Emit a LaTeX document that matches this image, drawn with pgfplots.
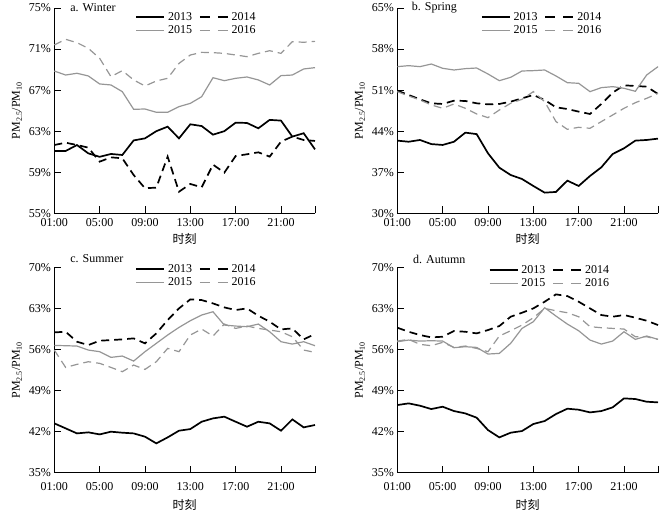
\documentclass[border=0pt]{standalone}
\usepackage{pgfplots}
\usepackage{pgfplotstable}
\pgfplotsset{compat=1.18}
\usepackage{fontspec}
\setmainfont{Liberation Serif}
\newfontfamily\cjk{Noto Sans CJK SC}
\definecolor{lgray}{RGB}{150,150,150}

\pgfplotstableread{
h y13 y14 y15 y16
1 61.07 61.65 68.86 71.40
2 61.07 61.88 68.47 71.95
3 61.65 61.65 68.64 71.62
4 60.84 61.40 68.38 71.07
5 60.50 60.03 67.60 70.10
6 60.78 60.45 67.50 68.31
7 60.68 60.36 66.85 68.90
8 62.10 58.73 65.13 67.99
9 62.30 57.44 65.16 67.40
10 63.00 57.50 64.84 67.89
11 63.44 60.52 64.84 68.15
12 62.30 57.10 65.39 69.60
13 63.67 57.86 65.71 70.42
14 63.50 57.53 66.36 70.68
15 62.66 59.74 68.21 70.65
16 63.00 58.96 67.92 70.58
17 63.83 60.58 68.15 70.42
18 63.80 60.75 68.28 70.26
19 63.28 60.94 67.99 70.58
20 64.10 60.52 67.50 70.84
21 64.03 61.98 68.41 70.58
22 62.47 62.47 68.47 71.72
23 62.80 62.14 69.06 71.66
24 61.23 62.05 69.19 71.75
}\winter

\pgfplotstableread{
h y13 y14 y15 y16
1 42.39 50.91 55.00 50.74
2 42.20 50.17 55.17 50.00
3 42.50 49.43 55.00 49.32
4 41.80 48.75 55.45 48.47
5 41.65 48.64 54.72 47.90
6 42.20 49.20 54.43 48.64
7 43.75 49.15 54.66 47.90
8 43.50 48.75 54.77 46.93
9 40.23 48.58 53.75 46.31
10 37.78 48.64 52.61 47.61
11 36.53 49.03 53.18 48.75
12 35.85 49.60 54.26 49.43
13 34.66 50.17 54.32 50.74
14 33.52 49.32 54.43 49.03
15 33.64 48.07 53.41 45.63
16 35.57 47.78 52.27 44.32
17 34.66 47.33 52.16 44.66
18 36.36 46.93 50.74 44.49
19 37.84 48.64 51.42 45.63
20 40.11 50.57 51.59 46.76
21 41.08 51.82 51.31 47.90
22 42.39 51.70 50.80 48.86
23 42.50 51.59 53.58 49.60
24 42.73 50.34 55.00 50.45
}\spring

\pgfplotstableread{
h y13 y14 y15 y16
1 43.41 58.92 56.70 55.91
2 42.56 59.03 56.65 52.95
3 41.70 57.33 56.59 53.47
4 41.88 56.76 55.91 53.92
5 41.53 57.50 55.63 53.64
6 41.99 57.61 54.66 52.95
7 41.82 57.73 54.89 52.22
8 41.70 57.90 54.03 53.35
9 41.14 57.05 55.63 52.61
10 40.00 58.75 57.05 53.92
11 41.02 61.02 58.47 56.19
12 42.16 63.01 59.77 55.63
13 42.44 64.55 60.91 58.47
14 43.69 64.43 61.88 59.49
15 44.26 63.86 62.44 58.30
16 44.55 63.18 60.17 60.34
17 43.69 62.73 60.00 59.60
18 42.84 63.01 59.89 60.00
19 43.69 61.76 60.34 59.60
20 43.41 60.74 59.03 59.32
21 42.16 59.43 57.33 59.03
22 44.09 59.60 56.93 58.18
23 42.73 57.73 57.33 55.91
24 43.13 58.64 56.65 55.51
}\summer

\pgfplotstableread{
h y13 y14 y15 y16
1 46.53 59.72 57.33 57.44
2 46.82 59.03 57.61 57.73
3 46.42 58.47 57.44 56.88
4 45.85 58.07 57.50 56.65
5 46.25 58.18 57.44 57.22
6 45.51 59.15 56.31 56.36
7 45.11 59.03 56.48 56.59
8 44.38 58.75 56.36 56.19
9 42.27 59.32 55.23 55.63
10 41.02 60.00 55.34 58.30
11 41.82 61.59 57.05 59.20
12 42.10 62.27 59.60 60.17
13 43.30 63.01 60.74 61.42
14 43.81 64.15 63.13 63.01
15 45.00 65.40 61.70 62.61
16 45.91 65.11 60.34 62.27
17 45.74 64.15 59.20 61.59
18 45.28 63.01 57.61 59.89
19 45.51 61.88 56.93 59.72
20 46.14 61.59 57.44 59.60
21 47.67 61.88 59.03 59.49
22 47.56 61.42 57.73 58.18
23 47.10 60.91 58.30 58.18
24 46.99 60.17 57.73 57.73
}\autumn

\pgfplotsset{
  panel/.style={
    scale only axis, width=260.7pt, height=205.3pt,
    axis lines*=left,
    axis line style={line width=1.2pt, black},
    xmin=1, xmax=24,
    xtick={1,5,9,13,17,21,24},
    xticklabels={01:00,05:00,09:00,13:00,17:00,21:00,{}},
    tick align=inside, major tick length=7pt,
    tick style={line width=0.9pt, black},
    /pgf/number format/assume math mode=true,
    yticklabel={\pgfmathprintnumber{\tick}\%},
    ticklabel style={font=\fontsize{12}{14}\selectfont},
    label style={font=\fontsize{12}{14}\selectfont},
    xlabel={\cjk 时刻},
    ylabel={PM\textsubscript{2.5}/PM\textsubscript{10}},
    legend columns=2,
    legend cell align=left,
    legend style={draw=none, fill=none, inner sep=0pt,
      font=\fontsize{12}{14}\selectfont, row sep=2pt,
      /tikz/every odd column/.append style={column sep=2pt},
      /tikz/every even column/.append style={column sep=6pt},
      nodes={inner sep=1pt}},
    legend image code/.code={\draw[##1] (0pt,0pt) -- (28pt,0pt);},
    clip=false,
  },
  toprow/.style={
    xticklabel style={yshift=-1.5pt},
    xlabel style={at={(axis description cs:0.5,0)}, anchor=center, yshift=-26pt},
  },
  botrow/.style={
    xticklabel style={yshift=-6.5pt},
    xlabel style={at={(axis description cs:0.5,0)}, anchor=center, yshift=-32pt},
  },
  s13/.style={black, line width=1.7pt},
  s14/.style={black, line width=1.7pt, dash pattern=on 8pt off 5pt,
    legend image code/.code={\draw[##1, dash pattern=on 10pt off 8pt] (0pt,0pt) -- (28pt,0pt);}},
  s15/.style={lgray, line width=1.2pt},
  s16/.style={lgray, line width=1.2pt, dash pattern=on 8pt off 5pt,
    legend image code/.code={\draw[##1, dash pattern=on 10pt off 8pt] (0pt,0pt) -- (28pt,0pt);}},
}

\begin{document}
\begin{tikzpicture}[x=1pt,y=1pt]
\useasboundingbox (0,0) rectangle (668,516);

\begin{axis}[panel, toprow, at={(54.3pt,302.7pt)}, anchor=south west,
  ymin=55, ymax=75, ytick={55,59,...,75},
  legend style={at={(0.31,0.985)}, anchor=north west}]
\addplot[s13] table[x=h,y=y13] {\winter}; \addlegendentry{2013}
\addplot[s14] table[x=h,y=y14] {\winter}; \addlegendentry{2014}
\addplot[s15] table[x=h,y=y15] {\winter}; \addlegendentry{2015}
\addplot[s16] table[x=h,y=y16] {\winter}; \addlegendentry{2016}
\node[anchor=west, font=\fontsize{12}{14}\selectfont, inner sep=0pt] at (rel axis cs:0.061,1) {a. Winter};
\end{axis}

\begin{axis}[panel, toprow, at={(397.3pt,302.7pt)}, anchor=south west,
  ymin=30, ymax=65, ytick={30,37,...,65},
  legend style={at={(0.32,0.985)}, anchor=north west}]
\addplot[s13] table[x=h,y=y13] {\spring}; \addlegendentry{2013}
\addplot[s14] table[x=h,y=y14] {\spring}; \addlegendentry{2014}
\addplot[s15] table[x=h,y=y15] {\spring}; \addlegendentry{2015}
\addplot[s16] table[x=h,y=y16] {\spring}; \addlegendentry{2016}
\node[anchor=west, font=\fontsize{12}{14}\selectfont, inner sep=0pt] at (rel axis cs:0.055,1) {b. Spring};
\end{axis}

\begin{axis}[panel, botrow, at={(54.3pt,43.3pt)}, anchor=south west,
  ymin=35, ymax=70, ytick={35,42,...,70},
  legend style={at={(0.31,1.02)}, anchor=north west}]
\addplot[s13] table[x=h,y=y13] {\summer}; \addlegendentry{2013}
\addplot[s14] table[x=h,y=y14] {\summer}; \addlegendentry{2014}
\addplot[s15] table[x=h,y=y15] {\summer}; \addlegendentry{2015}
\addplot[s16] table[x=h,y=y16] {\summer}; \addlegendentry{2016}
\node[anchor=west, font=\fontsize{12}{14}\selectfont, inner sep=0pt] at (rel axis cs:0.061,1.044) {c. Summer};
\end{axis}

\begin{axis}[panel, botrow, at={(397.3pt,43.3pt)}, anchor=south west,
  ymin=35, ymax=70, ytick={35,42,...,70},
  legend style={at={(0.35,1.015)}, anchor=north west}]
\addplot[s13] table[x=h,y=y13] {\autumn}; \addlegendentry{2013}
\addplot[s14] table[x=h,y=y14] {\autumn}; \addlegendentry{2014}
\addplot[s15] table[x=h,y=y15] {\autumn}; \addlegendentry{2015}
\addplot[s16] table[x=h,y=y16] {\autumn}; \addlegendentry{2016}
\node[anchor=west, font=\fontsize{12}{14}\selectfont, inner sep=0pt] at (rel axis cs:0.06,1.039) {d. Autumn};
\end{axis}
\end{tikzpicture}
\end{document}
